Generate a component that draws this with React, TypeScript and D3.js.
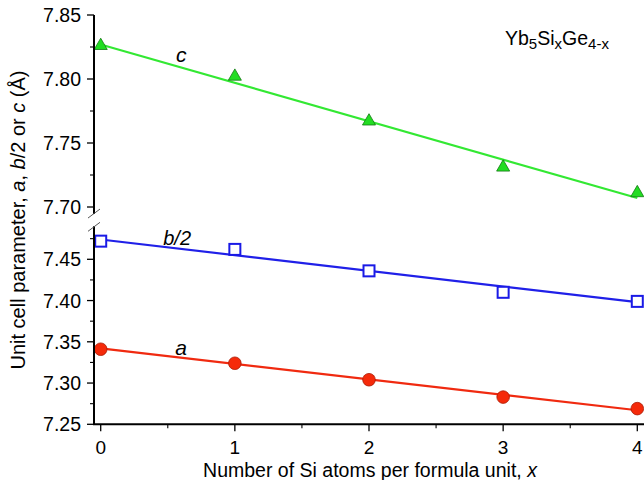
import React from "react";
import * as d3 from "d3";

// Composition x in Yb5SixGe4-x
const siContent = [0, 1, 2, 3, 4];
// Lattice parameters (Å)
const cValues = [7.826, 7.802, 7.767, 7.731, 7.711];
const bHalfValues = [7.472, 7.462, 7.436, 7.41, 7.399];
const aValues = [7.341, 7.324, 7.304, 7.283, 7.269];
// Linear-fit endpoints at x = 0 and x = 4
const fitX = [0, 4];
const cFit = [7.827, 7.707];
const bHalfFit = [7.474, 7.398];
const aFit = [7.342, 7.267];
// Axis ticks
const xTicks = [0, 1, 2, 3, 4];
const xMinorTicks = [0.5, 1.5, 2.5, 3.5];
const upperTicks = [7.7, 7.75, 7.8, 7.85];
const upperMinor = [7.725, 7.775, 7.825];
const lowerTicks = [7.25, 7.3, 7.35, 7.4, 7.45];
const lowerMinor = [7.275, 7.325, 7.375, 7.425, 7.475];

const W = 644;
const H = 480;
const font = "'Liberation Sans', Arial, Helvetica, sans-serif";

export default function App() {
  const x = d3.scaleLinear().domain([-0.05, 4.05]).range([94, 644]);
  const yUp = d3.scaleLinear().domain([7.7, 7.85]).range([207, 15]);
  const yLo = d3.scaleLinear().domain([7.25, 7.45]).range([424.3, 259.3]);
  const axisX = x(-0.05);
  const upBottom = yUp(7.6945);
  const loTop = yLo(7.49);

  const fitLine = (ys: number[], y: d3.ScaleLinear<number, number>) =>
    d3
      .line<number>()
      .x((_, i) => x(fitX[i]))
      .y((v) => y(v))(ys) as string;

  const tri = d3.symbol().type(d3.symbolTriangle).size(74)() as string;

  return (
    <svg
      width={W}
      height={H}
      style={{ position: "absolute", left: 0, top: 0, background: "#fff" }}
      fontFamily={font}
    >
      {/* fit lines */}
      <path d={fitLine(cFit, yUp)} stroke="#33e833" strokeWidth={2.2} fill="none" />
      <path d={fitLine(bHalfFit, yLo)} stroke="#2020e8" strokeWidth={2.2} fill="none" />
      <path d={fitLine(aFit, yLo)} stroke="#f02a10" strokeWidth={2.2} fill="none" />

      {/* c : triangles */}
      {siContent.map((s, i) => (
        <path
          key={"c" + i}
          d={tri}
          transform={`translate(${x(s)},${yUp(cValues[i])})`}
          fill="#22dd22"
          stroke="#137a13"
          strokeWidth={0.8}
        />
      ))}
      {/* b/2 : open squares */}
      {siContent.map((s, i) => (
        <rect
          key={"b" + i}
          x={x(s) - 5.5}
          y={yLo(bHalfValues[i]) - 5.5}
          width={11}
          height={11}
          fill="#fff"
          stroke="#1a1ae6"
          strokeWidth={2}
        />
      ))}
      {/* a : filled circles */}
      {siContent.map((s, i) => (
        <circle
          key={"a" + i}
          cx={x(s)}
          cy={yLo(aValues[i])}
          r={6.3}
          fill="#f52a0a"
          stroke="#a81a05"
          strokeWidth={0.8}
        />
      ))}

      {/* series labels */}
      <text x={x(0.6)} y={yUp(7.813)} fontSize={21} fontStyle="italic" textAnchor="middle">
        c
      </text>
      <text x={x(0.466)} y={yLo(7.467)} fontSize={20} fontStyle="italic">
        b/2
      </text>
      <text x={x(0.555)} y={yLo(7.334)} fontSize={21} fontStyle="italic">
        a
      </text>

      {/* compound formula */}
      <text x={505} y={45} fontSize={19.5}>
        Yb<tspan fontSize={15} dy={4}>5</tspan>
        <tspan dy={-4}>Si</tspan>
        <tspan fontSize={15} dy={4}>x</tspan>
        <tspan dy={-4}>Ge</tspan>
        <tspan fontSize={15} dy={4}>4-x</tspan>
      </text>

      {/* left axis: upper segment */}
      <line x1={axisX} x2={axisX} y1={yUp(7.85)} y2={upBottom} stroke="#000" strokeWidth={2} />
      {upperTicks.map((t) => (
        <g key={"ut" + t}>
          <line x1={axisX - 7} x2={axisX} y1={yUp(t)} y2={yUp(t)} stroke="#000" strokeWidth={1.3} />
          <text x={axisX - 13} y={yUp(t) + 7} fontSize={19.5} textAnchor="end">
            {d3.format(".2f")(t)}
          </text>
        </g>
      ))}
      {upperMinor.map((t) => (
        <line key={"um" + t} x1={axisX - 4} x2={axisX} y1={yUp(t)} y2={yUp(t)} stroke="#000" strokeWidth={1.1} />
      ))}

      {/* left axis: lower segment */}
      <line x1={axisX} x2={axisX} y1={loTop} y2={yLo(7.25)} stroke="#000" strokeWidth={2} />
      {lowerTicks.map((t) => (
        <g key={"lt" + t}>
          <line x1={axisX - 7} x2={axisX} y1={yLo(t)} y2={yLo(t)} stroke="#000" strokeWidth={1.3} />
          <text x={axisX - 13} y={yLo(t) + 7} fontSize={19.5} textAnchor="end">
            {d3.format(".2f")(t)}
          </text>
        </g>
      ))}
      {lowerMinor.map((t) => (
        <line key={"lm" + t} x1={axisX - 4} x2={axisX} y1={yLo(t)} y2={yLo(t)} stroke="#000" strokeWidth={1.1} />
      ))}

      {/* axis break marks */}
      <line x1={axisX - 6} x2={axisX + 6} y1={upBottom + 4} y2={upBottom - 5} stroke="#555" strokeWidth={1} />
      <line x1={axisX - 6} x2={axisX + 6} y1={loTop + 5} y2={loTop - 4} stroke="#555" strokeWidth={1} />

      {/* bottom axis */}
      <line x1={axisX - 1} x2={W} y1={yLo(7.25)} y2={yLo(7.25)} stroke="#000" strokeWidth={2} />
      {xTicks.map((t) => (
        <g key={"xt" + t}>
          <line x1={x(t)} x2={x(t)} y1={yLo(7.25)} y2={yLo(7.25) + 7} stroke="#000" strokeWidth={1.3} />
          <text x={x(t)} y={yLo(7.25) + 30} fontSize={19} textAnchor="middle">
            {t}
          </text>
        </g>
      ))}
      {xMinorTicks.map((t) => (
        <line key={"xm" + t} x1={x(t)} x2={x(t)} y1={yLo(7.25)} y2={yLo(7.25) + 4} stroke="#000" strokeWidth={1.1} />
      ))}

      {/* axis titles */}
      <text x={370} y={477} fontSize={19.5} textAnchor="middle">
        Number of Si atoms per formula unit, <tspan fontStyle="italic">x</tspan>
      </text>
      <text transform="translate(25,220) rotate(-90)" fontSize={20} textAnchor="middle">
        Unit cell parameter, <tspan fontStyle="italic">a</tspan>, <tspan fontStyle="italic">b</tspan>/2 or{" "}
        <tspan fontStyle="italic">c</tspan> (Å)
      </text>
    </svg>
  );
}
